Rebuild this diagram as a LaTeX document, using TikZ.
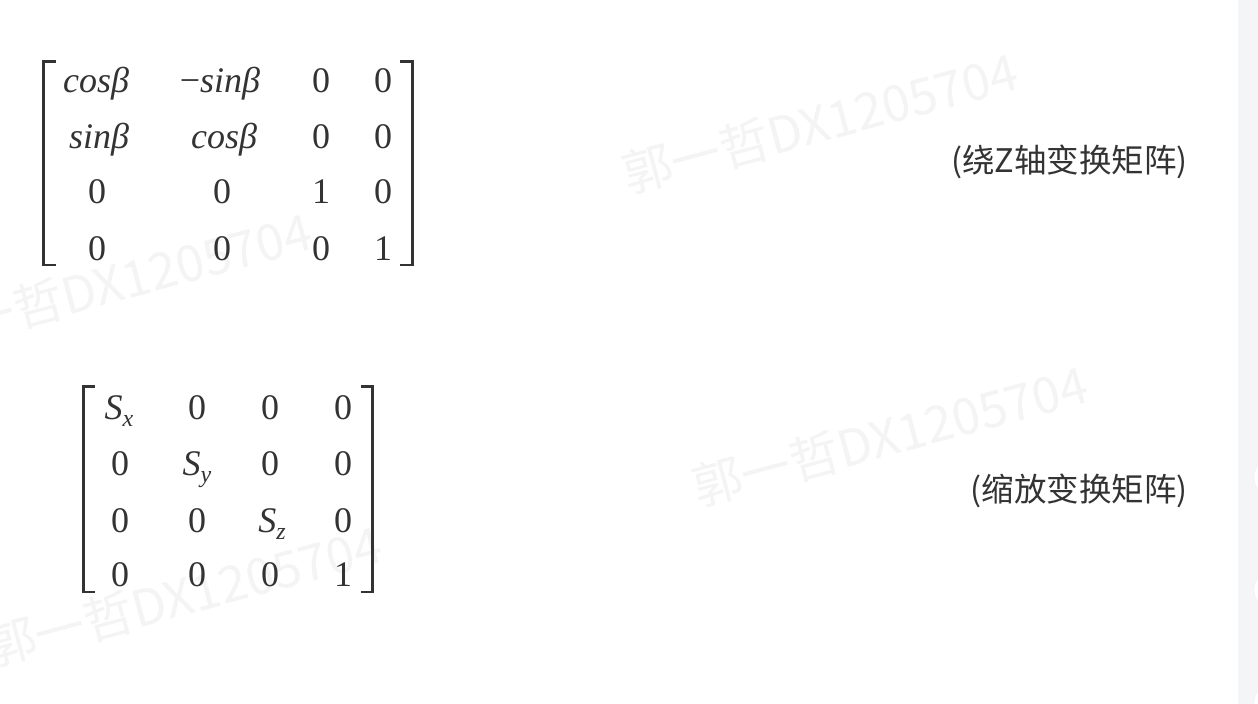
\documentclass[tikz,border=0pt]{standalone}
\usepackage{fontspec}
\setmainfont{Liberation Serif}
\newfontfamily\cjk{Noto Sans CJK SC}
\definecolor{ink}{HTML}{333333}
\definecolor{wmcol}{HTML}{F4F4F4}
\definecolor{stripcol}{HTML}{F4F5F7}
\newcommand{\sub}[1]{\raisebox{-7bp}{\fontsize{24bp}{24bp}\selectfont\itshape #1}}
\tikzset{
  ent/.style={anchor=base, text=ink, inner sep=0pt, font=\fontsize{36bp}{40bp}\selectfont\itshape},
  num/.style={anchor=base, text=ink, inner sep=0pt, font=\fontsize{36bp}{40bp}\selectfont},
  lbl/.style={anchor=east, text=ink, inner sep=0pt, font=\cjk\fontsize{32.5bp}{38bp}\selectfont},
  wmark/.style={text=wmcol, inner sep=0pt, rotate=15, font=\cjk\fontsize{50bp}{56bp}\selectfont},
  brk/.style={draw=ink, line width=2.6bp, line cap=butt, line join=miter},
  knob/.style={circle, fill=white, draw=black!6, minimum size=40bp, inner sep=0pt}
}
\begin{document}
\begin{tikzpicture}[x=1bp,y=-1bp]
\fill[white] (0,0) rectangle (1258,704);
\useasboundingbox (0,0) rectangle (1258,704);
% right strip
\fill[stripcol] (1238,0) rectangle (1258,704);
\node[knob] (k1) at (1274,477) {};
\node[knob] (k2) at (1274,590) {};
\node[knob] (k3) at (1274,703) {};
% watermarks
\node[wmark] (w1) at (820,123) {郭一哲DX1205704};
\node[wmark] (w2) at (114,283) {郭一哲DX1205704};
\node[wmark] (w3) at (890,436) {郭一哲DX1205704};
\node[wmark] (w4) at (184,596) {郭一哲DX1205704};
% matrix 1 brackets
\draw[brk] (56,61.3) -- (43.3,61.3) -- (43.3,265) -- (56,265);
\draw[brk] (400,61.3) -- (412.7,61.3) -- (412.7,265) -- (400,265);
% matrix 1 entries
\node[ent] (a11) at (96,93) {cosβ};
\node[ent] (a12) at (220,93) {{\upshape −}sinβ};
\node[num] (a13) at (321,93) {0};
\node[num] (a14) at (383,93) {0};
\node[ent] (a21) at (99,149) {sinβ};
\node[ent] (a22) at (224,149) {cosβ};
\node[num] (a23) at (321,149) {0};
\node[num] (a24) at (383,149) {0};
\node[num] (a31) at (97,204) {0};
\node[num] (a32) at (222,204) {0};
\node[num] (a33) at (321,204) {1};
\node[num] (a34) at (383,204) {0};
\node[num] (a41) at (97,260) {0};
\node[num] (a42) at (222,260) {0};
\node[num] (a43) at (321,260) {0};
\node[num] (a44) at (383,260) {1};
% matrix 2 brackets
\draw[brk] (95,386.3) -- (83.3,386.3) -- (83.3,592) -- (95,592);
\draw[brk] (361,386.3) -- (372.7,386.3) -- (372.7,592) -- (361,592);
% matrix 2 entries
\node[ent] (b11) at (119,419) {S\sub{x}};
\node[num] (b12) at (197,419) {0};
\node[num] (b13) at (270,419) {0};
\node[num] (b14) at (343,419) {0};
\node[num] (b21) at (120,475) {0};
\node[ent] (b22) at (197,475) {S\sub{y}};
\node[num] (b23) at (270,475) {0};
\node[num] (b24) at (343,475) {0};
\node[num] (b31) at (120,532) {0};
\node[num] (b32) at (197,532) {0};
\node[ent] (b33) at (272,532) {S\sub{z}};
\node[num] (b34) at (343,532) {0};
\node[num] (b41) at (120,586) {0};
\node[num] (b42) at (197,586) {0};
\node[num] (b43) at (270,586) {0};
\node[num] (b44) at (343,586) {1};
% labels
\node[lbl] (l1) at (1188,162) {(绕Z轴变换矩阵)};
\node[lbl] (l2) at (1188,491) {(缩放变换矩阵)};
\end{tikzpicture}
\end{document}
